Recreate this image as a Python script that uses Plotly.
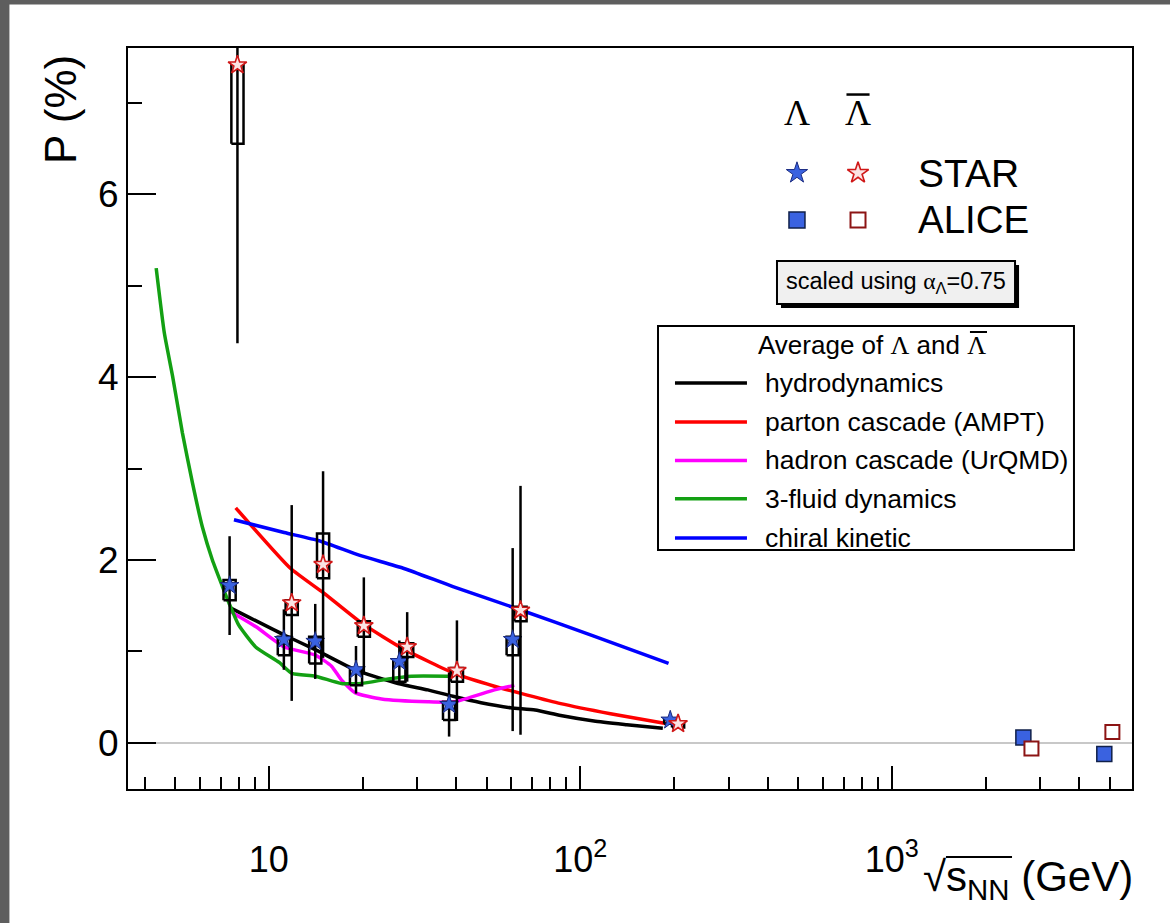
import plotly.graph_objects as go

# ---------------- data ----------------
# STAR beam energies (GeV)
star_energy = [7.7, 11.5, 14.5, 19.6, 27, 39, 62.4, 200]
lam_P = [1.72, 1.13, 1.11, 0.80, 0.89, 0.42, 1.13, 0.25]
lam_stat = [0.54, 0.33, 0.41, 0.26, 0.23, 0.35, 1.00, 0.04]
lam_sys_hi = [0.06, 0.03, 0.05, 0.02, 0.02, 0.03, 0.03, 0.02]
lam_sys_lo = [0.16, 0.17, 0.24, 0.17, 0.22, 0.17, 0.17, 0.04]
alam_P = [7.41, 1.53, 1.95, 1.28, 1.05, 0.79, 1.45, 0.21]
alam_stat = [3.04, 1.07, 1.02, 0.53, 0.38, 0.55, 1.36, 0.05]
alam_sys_hi = [0.02, 0.03, 0.34, 0.05, 0.04, 0.03, 0.04, 0.02]
alam_sys_lo = [0.86, 0.13, 0.15, 0.12, 0.11, 0.12, 0.12, 0.04]

# ALICE
alice_energy = [2760, 5020]
alice_lam_P = [0.06, -0.12]
alice_alam_P = [-0.06, 0.12]

# model curves (average of Lambda and anti-Lambda)
hydro_E = [7.5, 11.2, 14.1, 18.9, 26.0, 32.4, 39.0, 48.0, 59.8, 71.6, 86.5, 110.6, 141.0, 184.0]
hydro_P = [1.48, 1.18, 1.02, 0.80, 0.65, 0.58, 0.51, 0.44, 0.385, 0.36, 0.30, 0.24, 0.20, 0.16]
ampt_E = [7.83, 11.73, 14.99, 19.86, 27.3, 39.5, 53.0, 86.5, 125.0, 190.0]
ampt_P = [2.57, 1.91, 1.64, 1.31, 1.02, 0.76, 0.62, 0.43, 0.32, 0.21]
urqmd_E = [7.5, 9.1, 11.2, 14.1, 15.9, 17.1, 18.9, 23.0, 32.4, 39.5, 53.0, 61.4]
urqmd_P = [1.44, 1.27, 1.05, 0.96, 0.84, 0.69, 0.55, 0.48, 0.45, 0.45, 0.58, 0.63]
fluid_E = [4.35, 4.62, 4.91, 5.28, 5.69, 6.12, 6.59, 7.10, 7.45, 8.0, 9.07, 10.8, 11.87, 14.1, 17.1, 19.86, 24.2, 28.7, 37.6]
fluid_P = [5.19, 4.48, 4.01, 3.39, 2.84, 2.36, 2.00, 1.71, 1.53, 1.29, 1.05, 0.88, 0.76, 0.73, 0.65, 0.65, 0.70, 0.73, 0.73]
chiral_E = [7.73, 11.2, 14.5, 19.6, 27.0, 39.0, 62.4, 110.0, 192.0]
chiral_P = [2.44, 2.30, 2.21, 2.05, 1.91, 1.71, 1.47, 1.17, 0.87]

model_names = ["hydrodynamics", "parton cascade (AMPT)", "hadron cascade (UrQMD)",
               "3-fluid dynamics", "chiral kinetic"]

x_tickvals = [10, 100, 1000]
x_ticktext = ["10", "10<sup>2</sup>", "10<sup>3</sup>"]
x_minor_ticks = [4, 5, 6, 7, 8, 9, 20, 30, 40, 50, 60, 70, 80, 90,
                 200, 300, 400, 500, 600, 700, 800, 900, 2000, 3000, 4000, 5000]

# ---------------- style ----------------
SANS = "Liberation Sans, Arial, Helvetica, sans-serif"
SERIF = "Liberation Serif, Times New Roman, serif"
model_colors = ["#000000", "#ff0000", "#ff00ff", "#13a013", "#0000ff"]
BLUE = "#3a62e0"
RED = "#d01818"
DARKRED = "#8c1414"
LAM_SHIFT = 0.972     # horizontal display offsets (to separate overlapping points)
ALAM_SHIFT = 1.03
ALICE_LAM_SHIFT = 0.958
ALICE_ALAM_SHIFT = 1.017
BOX_HALF_DEC = 0.0195  # half width of systematic boxes in decades

fig = go.Figure()

# model curves
models = [(hydro_E, hydro_P), (ampt_E, ampt_P), (urqmd_E, urqmd_P),
          (fluid_E, fluid_P), (chiral_E, chiral_P)]
for (E, P), name, col in zip(models, model_names, model_colors):
    fig.add_trace(go.Scatter(x=E, y=P, mode="lines", name=name,
                             line=dict(color=col, width=3.5, shape="spline", smoothing=0.5),
                             hoverinfo="skip"))


def sys_boxes(E, P, hi, lo, shift):
    xs, ys = [], []
    for e, p, h, l in zip(E, P, hi, lo):
        xc = e * shift
        xl = xc * 10 ** (-BOX_HALF_DEC)
        xr = xc * 10 ** BOX_HALF_DEC
        xs += [xl, xr, xr, xl, xl, None]
        ys += [p - l, p - l, p + h, p + h, p - l, None]
    return go.Scatter(x=xs, y=ys, mode="lines", line=dict(color="black", width=2.5),
                      hoverinfo="skip", showlegend=False)


fig.add_trace(sys_boxes(star_energy, lam_P, lam_sys_hi, lam_sys_lo, LAM_SHIFT))
fig.add_trace(sys_boxes(star_energy, alam_P, alam_sys_hi, alam_sys_lo, ALAM_SHIFT))

# STAR points with statistical error bars
fig.add_trace(go.Scatter(
    x=[e * LAM_SHIFT for e in star_energy], y=lam_P, mode="markers", name="STAR Lambda",
    error_y=dict(type="data", array=lam_stat, color="black", thickness=2.5, width=0),
    marker=dict(symbol="star", size=14, color=BLUE, line=dict(color="#1a2a80", width=1))))
fig.add_trace(go.Scatter(
    x=[e * ALAM_SHIFT for e in star_energy], y=alam_P, mode="markers", name="STAR anti-Lambda",
    error_y=dict(type="data", array=alam_stat, color="black", thickness=2.5, width=0),
    marker=dict(symbol="star", size=14, color="#fbe4e4", line=dict(color=RED, width=1.6))))

# ALICE points
fig.add_trace(go.Scatter(
    x=[e * ALICE_LAM_SHIFT for e in alice_energy], y=alice_lam_P, mode="markers", name="ALICE Lambda",
    marker=dict(symbol="square", size=15, color=BLUE, line=dict(color="#10204a", width=1.5))))
fig.add_trace(go.Scatter(
    x=[e * ALICE_ALAM_SHIFT for e in alice_energy], y=alice_alam_P, mode="markers", name="ALICE anti-Lambda",
    marker=dict(symbol="square", size=14, color="white", line=dict(color=DARKRED, width=2))))

# ---------------- marker key (top right) on overlay axes ----------------
key_x = [0.6663, 0.7271]
key_y = [0.8313, 0.7679]
fig.add_trace(go.Scatter(x=[key_x[0]], y=[key_y[0]], xaxis="x2", yaxis="y2", mode="markers",
                         marker=dict(symbol="star", size=16, color=BLUE, line=dict(color="#1a2a80", width=1)),
                         hoverinfo="skip", showlegend=False))
fig.add_trace(go.Scatter(x=[key_x[1]], y=[key_y[0]], xaxis="x2", yaxis="y2", mode="markers",
                         marker=dict(symbol="star", size=16, color="#fbe4e4", line=dict(color=RED, width=1.6)),
                         hoverinfo="skip", showlegend=False))
fig.add_trace(go.Scatter(x=[key_x[0]], y=[key_y[1]], xaxis="x2", yaxis="y2", mode="markers",
                         marker=dict(symbol="square", size=16, color=BLUE, line=dict(color="#10204a", width=1.5)),
                         hoverinfo="skip", showlegend=False))
fig.add_trace(go.Scatter(x=[key_x[1]], y=[key_y[1]], xaxis="x2", yaxis="y2", mode="markers",
                         marker=dict(symbol="square", size=15, color="white", line=dict(color=DARKRED, width=2)),
                         hoverinfo="skip", showlegend=False))

shapes = []
annotations = []

# gray frame of the original picture
shapes.append(dict(type="rect", xref="paper", yref="paper", x0=-0.1275, x1=-0.1181,
                   y0=-0.181, y1=1.065, fillcolor="#5e5e5e", line=dict(width=0), layer="above"))
shapes.append(dict(type="rect", xref="paper", yref="paper", x0=-0.1275, x1=1.038,
                   y0=1.0587, y1=1.065, fillcolor="#5e5e5e", line=dict(width=0), layer="above"))

# Lambda headers
annotations.append(dict(x=key_x[0], y=0.9123, xref="paper", yref="paper", text="Λ", showarrow=False,
                        font=dict(family=SERIF, size=36, color="black"), xanchor="center", yanchor="middle"))
annotations.append(dict(x=key_x[1], y=0.9123, xref="paper", yref="paper", text="Λ", showarrow=False,
                        font=dict(family=SERIF, size=36, color="black"), xanchor="center", yanchor="middle"))
shapes.append(dict(type="line", xref="paper", yref="paper", x0=key_x[1] - 0.0115, x1=key_x[1] + 0.0115,
                   y0=0.9372, y1=0.9372, line=dict(color="black", width=2.5)))
annotations.append(dict(x=0.7849, y=key_y[0], xref="paper", yref="paper", text="STAR", showarrow=False,
                        font=dict(family=SANS, size=39, color="black"), xanchor="left", yanchor="middle"))
annotations.append(dict(x=0.7849, y=key_y[1], xref="paper", yref="paper", text="ALICE", showarrow=False,
                        font=dict(family=SANS, size=38.5, color="black"), xanchor="left", yanchor="middle"))

# "scaled using" box with shadow
shapes.append(dict(type="rect", xref="paper", yref="paper", x0=0.6504, x1=0.8875,
                   y0=0.6491, y1=0.7072, fillcolor="black", line=dict(width=0)))
shapes.append(dict(type="rect", xref="paper", yref="paper", x0=0.6464, x1=0.8835,
                   y0=0.6545, y1=0.7126, fillcolor="#f0f0f0", line=dict(color="black", width=2)))
annotations.append(dict(x=0.7649, y=0.6842, xref="paper", yref="paper",
                        text="scaled using <span style='font-family:Liberation Serif'>α</span><sub>Λ</sub>=0.75",
                        showarrow=False, font=dict(family=SANS, size=23.5, color="black"),
                        xanchor="center", yanchor="middle"))

# model legend box
shapes.append(dict(type="rect", xref="paper", yref="paper", x0=0.5279, x1=0.9422,
                   y0=0.3225, y1=0.6248, fillcolor="white", line=dict(color="black", width=2)))
annotations.append(dict(x=0.741, y=0.5992, xref="paper", yref="paper",
                        text="Average of <span style='font-family:Liberation Serif'>Λ</span> and "
                             "<span style='font-family:Liberation Serif'>Λ</span>",
                        showarrow=False, font=dict(family=SANS, size=26, color="black"),
                        xanchor="center", yanchor="middle"))
shapes.append(dict(type="line", xref="paper", yref="paper", x0=0.8386, x1=0.8556,
                   y0=0.6167, y1=0.6167, line=dict(color="black", width=2)))
leg_y = [0.5479, 0.4953, 0.4434, 0.3918, 0.3387]
for yy, name, col in zip(leg_y, model_names, model_colors):
    shapes.append(dict(type="line", xref="paper", yref="paper", x0=0.5448, x1=0.6165,
                       y0=yy, y1=yy, line=dict(color=col, width=3.5)))
    annotations.append(dict(x=0.6325, y=yy, xref="paper", yref="paper", text=name, showarrow=False,
                            font=dict(family=SANS, size=26.5, color="black"), xanchor="left", yanchor="middle"))

# axis titles
annotations.append(dict(x=-0.0677, y=0.9163, xref="paper", yref="paper", text="P (%)", showarrow=False,
                        textangle=-90, font=dict(family=SANS, size=44, color="black"),
                        xanchor="center", yanchor="middle"))
annotations.append(dict(x=1.003, y=-0.1228, xref="paper", yref="paper",
                        text="√s<sub>NN</sub> (GeV)", showarrow=False,
                        font=dict(family=SANS, size=42, color="black"), xanchor="right", yanchor="middle"))
shapes.append(dict(type="line", xref="paper", yref="paper", x0=0.8147, x1=0.8805,
                   y0=-0.0918, y1=-0.0918, line=dict(color="black", width=2)))

fig.update_layout(
    width=1170, height=923,
    margin=dict(l=128, r=38, t=48, b=134),
    paper_bgcolor="white", plot_bgcolor="white",
    showlegend=False,
    font=dict(family=SANS, color="black"),
    xaxis=dict(type="log", range=[0.548, 3.771], tickmode="array", tickvals=x_tickvals, ticktext=x_ticktext,
               ticks="inside", ticklen=23, tickwidth=2, tickcolor="black",
               showline=True, mirror=True, linecolor="black", linewidth=2,
               showgrid=False, zeroline=False, tickfont=dict(size=36, family=SANS),
               ticklabelstandoff=38,
               minor=dict(tickmode="array", tickvals=x_minor_ticks, ticks="inside", ticklen=12,
                          tickwidth=2, tickcolor="black", showgrid=False)),
    yaxis=dict(range=[-0.503, 7.596], tickmode="linear", tick0=0, dtick=2,
               ticks="inside", ticklen=28, tickwidth=2, tickcolor="black",
               showline=True, mirror=True, linecolor="black", linewidth=2,
               showgrid=False, zeroline=True, zerolinecolor="#c8c8c8", zerolinewidth=2,
               tickfont=dict(size=37, family=SANS), ticklabelstandoff=0,
               minor=dict(tickmode="linear", tick0=0, dtick=1, ticks="inside", ticklen=14,
                          tickwidth=2, tickcolor="black", showgrid=False)),
    xaxis2=dict(overlaying="x", range=[0, 1], visible=False, fixedrange=True),
    yaxis2=dict(overlaying="y", range=[0, 1], visible=False, fixedrange=True),
    shapes=shapes,
    annotations=annotations,
)

fig.write_html("out.html", config={"displayModeBar": False},
               post_script="document.body.style.margin='0';")
